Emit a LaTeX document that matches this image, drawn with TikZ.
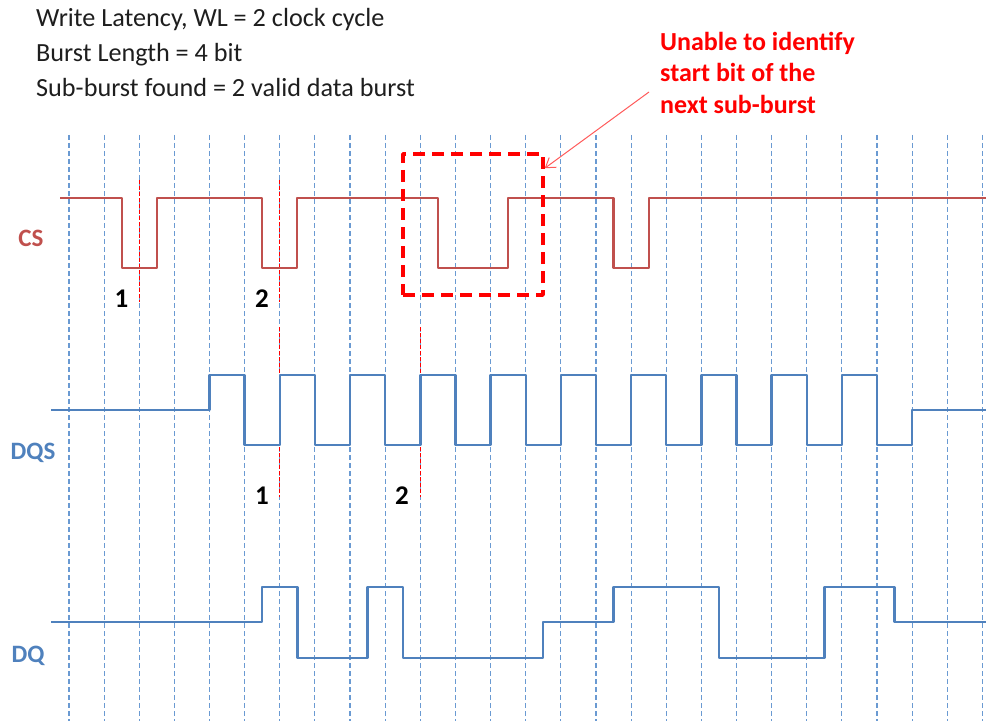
\documentclass[tikz,border=0pt]{standalone}
\usepackage{fontspec}
\setmainfont{Carlito}
\usetikzlibrary{arrows.meta}
\definecolor{csred}{HTML}{C0504D}
\definecolor{sigblue}{HTML}{4F81BD}
\definecolor{gridblue}{HTML}{6A9AD2}
\definecolor{alertred}{HTML}{FF0000}
\definecolor{arrowred}{HTML}{FF5A5A}
\definecolor{txtgray}{HTML}{1E1E1E}
\tikzset{
  gridline/.style={gridblue, line width=1.1bp, dash pattern=on 5bp off 3bp},
  markline/.style={alertred, line width=1bp, dash pattern=on 4bp off 2bp},
  cswave/.style={csred, line width=2.2bp, line join=round},
  bluewave/.style={sigblue, line width=2.4bp, line join=round},
  infotext/.style={font=\fontsize{26.2bp}{35bp}\selectfont, text=txtgray, anchor=base west, inner sep=0pt},
  alerttext/.style={font=\fontsize{26bp}{31.3bp}\selectfont\bfseries, text=alertred, align=left, anchor=north west, inner sep=0pt},
  siglabel/.style={font=\fontsize{25bp}{30bp}\selectfont\bfseries, anchor=base, inner sep=0pt},
  numlabel/.style={font=\bfseries\fontsize{27bp}{30bp}\selectfont, anchor=base, inner sep=0pt, text=black},
  alertbox/.style={draw=alertred, line width=3.5bp, dash pattern=on 12bp off 7bp, line join=round, minimum width=140bp, minimum height=141bp, inner sep=0pt},
  pointer/.style={arrowred, line width=1bp, -{Straight Barb[length=9bp, width=12bp]}}
}
\begin{document}
\begin{tikzpicture}[x=1bp, y=-1bp]
\useasboundingbox (0,0) rectangle (986,721);
% info text
\node[infotext] (l1) at (36,26.5) {Write Latency, WL = 2 clock cycle};
\node[infotext] (l2) at (36,61.5) {Burst Length = 4 bit};
\node[infotext] (l3) at (36,96.5) {Sub-burst found = 2 valid data burst};
\node[alerttext] (alert) at (660,32) {Unable to identify\\start bit of the\\next sub-burst};
% grid and waveforms
\begin{scope}[x=35.13bp, xshift=69bp]
  \foreach \k in {0,...,26} \draw[gridline] (\k,135) -- (\k,721);
  \draw[markline] (2,180) -- (2,302);
  \draw[markline] (6,180) -- (6,302);
  \draw[markline] (6,327) -- (6,497);
  \draw[markline] (10,327) -- (10,497);
  \draw[cswave] (-0.256,198) -| (1.5,268) -| (2.5,198) -| (5.5,268) -| (6.5,198)
     -| (10.5,268) -| (12.5,198) -| (15.5,268) -| (16.5,198) -- (26.1,198);
  \draw[bluewave] (-0.512,410) -| (4,375) -| (5,445) -| (6,375) -| (7,445) -| (8,375)
     -| (9,445) -| (10,375) -| (11,445) -| (12,375) -| (13,445) -| (14,375)
     -| (15,445) -| (16,375) -| (17,445) -| (18,375) -| (19,445) -| (20,375)
     -| (21,445) -| (22,375) -| (23,445) -| (24,410) -- (26.1,410);
  \draw[bluewave] (-0.512,622) -| (5.5,587) -| (6.5,658) -| (8.5,587) -| (9.5,658)
     -| (13.5,622) -| (15.5,587) -| (18.5,658) -| (21.5,587) -| (23.5,622) -- (26.1,622);
\end{scope}
% labels
\node[siglabel, text=csred] (cs) at (31,246) {CS};
\node[siglabel, text=sigblue] (dqs) at (33,459.5) {DQS};
\node[siglabel, text=sigblue] (dq) at (28,662) {DQ};
\node[numlabel] (n1a) at (121.5,307) {1};
\node[numlabel] (n2a) at (262,307) {2};
\node[numlabel] (n1b) at (262,504) {1};
\node[numlabel] (n2b) at (402,504) {2};
% alert box and pointer
\node[alertbox] (box) at (473,224.5) {};
\coordinate (pstart) at (649,92);
\draw[pointer] (pstart) -- ([yshift=-16bp]box.north east);
\end{tikzpicture}
\end{document}
